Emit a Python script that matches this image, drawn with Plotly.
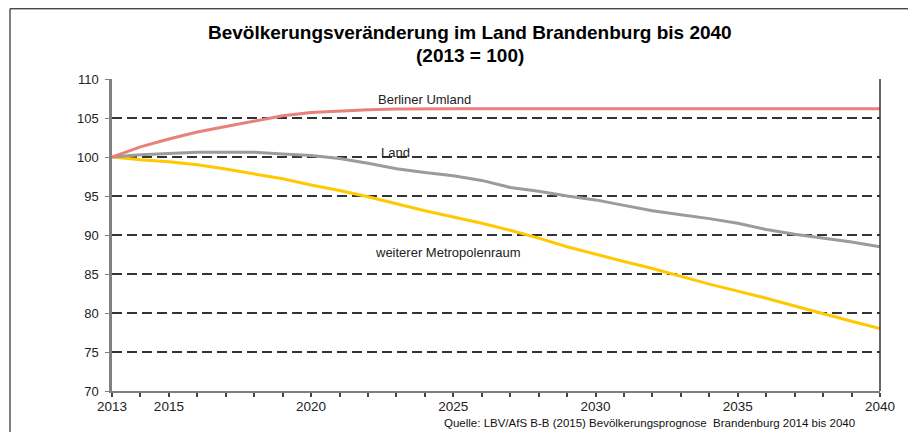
import plotly.graph_objects as go

years = list(range(2013, 2041))
berliner_umland = [100.0, 101.3, 102.3, 103.2, 103.9, 104.6, 105.3, 105.7, 105.9, 106.05,
                   106.15, 106.2, 106.2, 106.2, 106.2, 106.2, 106.2, 106.2, 106.2, 106.2,
                   106.2, 106.2, 106.2, 106.2, 106.2, 106.2, 106.2, 106.2]
land = [100.0, 100.3, 100.45, 100.6, 100.6, 100.6, 100.4, 100.2, 99.8, 99.2,
        98.5, 98.0, 97.6, 97.0, 96.1, 95.6, 95.0, 94.5, 93.8, 93.1,
        92.6, 92.1, 91.5, 90.7, 90.1, 89.6, 89.1, 88.5]
weiterer_metropolenraum = [100.0, 99.65, 99.4, 99.0, 98.45, 97.85, 97.2, 96.4, 95.7, 94.9,
                           94.0, 93.1, 92.3, 91.5, 90.6, 89.6, 88.5, 87.5, 86.6, 85.7,
                           84.7, 83.7, 82.8, 81.9, 80.9, 79.9, 78.95, 78.0]
x_tick_labels = {2013: "2013", 2015: "2015", 2020: "2020", 2025: "2025",
                 2030: "2030", 2035: "2035", 2040: "2040"}
y_ticks = [70, 75, 80, 85, 90, 95, 100, 105, 110]

title_line1 = "Bevölkerungsveränderung im Land Brandenburg bis 2040"
title_line2 = "(2013 = 100)"
source_text = "Quelle: LBV/AfS B-B (2015) Bevölkerungsprognose  Brandenburg 2014 bis 2040"

FONT = "Liberation Sans, Arial, sans-serif"

# reference-pixel helpers (plot area: x 112..880, y 79.3..391.7)
def px(x):
    return (x - 112) / 768.0

def py(y):
    return (391.7 - y) / 312.4

fig = go.Figure()
fig.add_trace(go.Scatter(x=years, y=weiterer_metropolenraum, mode="lines",
                         line=dict(color="#FFC800", width=3), name="weiterer Metropolenraum"))
fig.add_trace(go.Scatter(x=years, y=land, mode="lines",
                         line=dict(color="#9B9B9B", width=3), name="Land"))
fig.add_trace(go.Scatter(x=years, y=berliner_umland, mode="lines",
                         line=dict(color="#E8817A", width=3), name="Berliner Umland"))

fig.update_layout(
    width=916, height=432,
    margin=dict(l=104, r=44, t=71, b=49, autoexpand=False),
    paper_bgcolor="white", plot_bgcolor="white",
    showlegend=False,
    font=dict(family=FONT, color="#222222"),
    xaxis=dict(
        range=[2013, 2040],
        tickmode="array",
        tickvals=years,
        ticktext=[x_tick_labels.get(y, "") for y in years],
        ticks="outside", ticklen=4, tickwidth=2, tickcolor="#444444",
        showline=True, linecolor="#808080", linewidth=2,
        showgrid=False, zeroline=False,
        ticklabelstandoff=-2,
        tickfont=dict(size=13.5, color="#222222"),
    ),
    yaxis=dict(
        range=[70, 110],
        tickmode="array", tickvals=y_ticks,
        ticks="outside", ticklen=4, tickwidth=1, tickcolor="#808080",
        showline=True, linecolor="#808080", linewidth=2.5,
        showgrid=True, gridcolor="#333333", gridwidth=1.5, griddash="10px,5px",
        zeroline=False,
        ticklabelstandoff=4,
        tickfont=dict(size=13, color="#222222"),
    ),
)

# title
fig.add_annotation(xref="paper", yref="paper", x=px(470), y=py(33),
                   text="<b>" + title_line1 + "</b>", showarrow=False,
                   font=dict(size=19, family=FONT, color="#000000"),
                   xanchor="center", yanchor="middle")
fig.add_annotation(xref="paper", yref="paper", x=px(470), y=py(56),
                   text="<b>" + title_line2 + "</b>", showarrow=False,
                   font=dict(size=19, family=FONT, color="#000000"),
                   xanchor="center", yanchor="middle")

# line labels
fig.add_annotation(x=2022.28, y=107.35, text="Berliner Umland", showarrow=False,
                   xanchor="left", yanchor="middle", font=dict(size=13, color="#222222"))
fig.add_annotation(x=2022.39, y=100.6, text="Land", showarrow=False,
                   xanchor="left", yanchor="middle", font=dict(size=13, color="#222222"))
fig.add_annotation(x=2022.18, y=87.72, text="weiterer Metropolenraum", showarrow=False,
                   xanchor="left", yanchor="middle", font=dict(size=13, color="#222222"))

# source
fig.add_annotation(xref="paper", yref="paper", x=px(857), y=py(423.5),
                   text=source_text, showarrow=False, xanchor="right", yanchor="middle",
                   font=dict(size=11.5, color="#111111"))

# right border of plot area
fig.add_shape(type="line", xref="paper", yref="paper", x0=1, x1=1, y0=0, y1=1,
              line=dict(color="#333333", width=1.5))
# outer frame (top and left)
fig.add_shape(type="line", xref="paper", yref="paper",
              x0=px(10), x1=px(930), y0=py(9), y1=py(9),
              line=dict(color="#000000", width=1))
fig.add_shape(type="line", xref="paper", yref="paper",
              x0=px(10), x1=px(10), y0=py(9), y1=py(445),
              line=dict(color="#000000", width=1))

fig.write_html("out.html")
